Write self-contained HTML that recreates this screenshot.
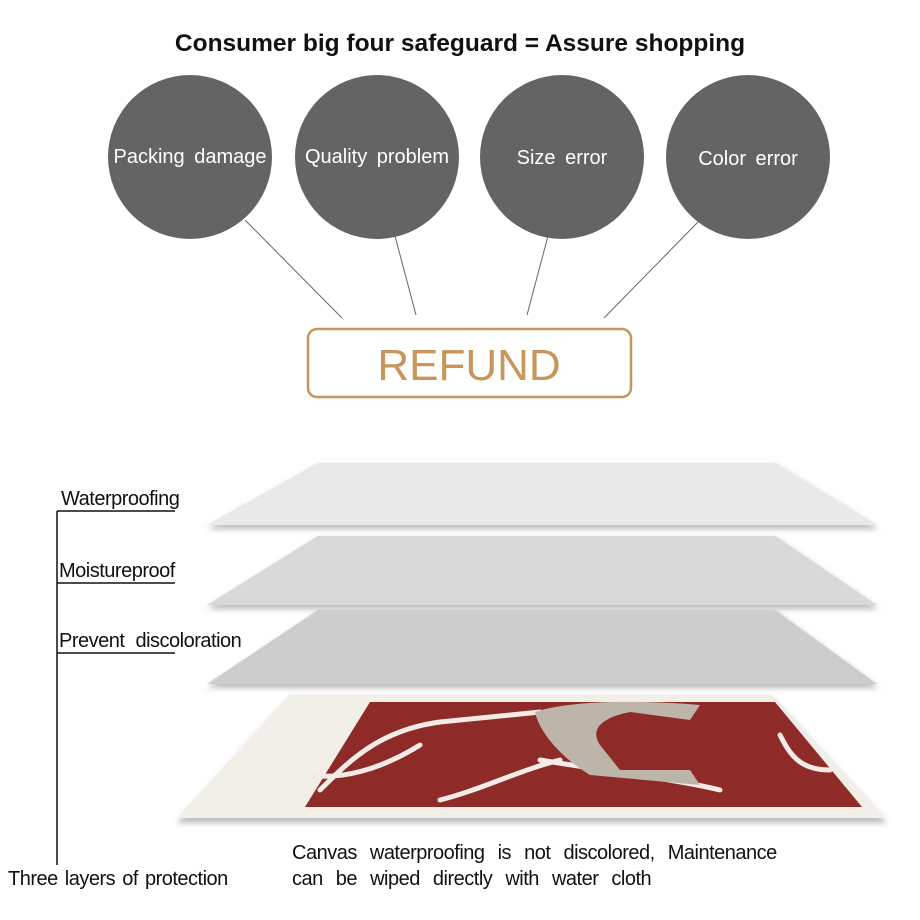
<!DOCTYPE html>
<html><head><style>
body{margin:0;width:920px;height:920px;background:#fff;overflow:hidden}
svg{display:block}
</style></head><body>
<svg width="920" height="920" viewBox="0 0 920 920" xmlns="http://www.w3.org/2000/svg" font-family="Liberation Sans, sans-serif">
<defs><filter id="sh" x="-5%" y="-20%" width="110%" height="150%"><feGaussianBlur stdDeviation="3"/></filter></defs>
<text x="460" y="51" text-anchor="middle" font-size="24.5" font-weight="bold" fill="#111">Consumer big four safeguard = Assure shopping</text>
<g fill="#646464"><circle cx="190" cy="157" r="82"/><circle cx="377" cy="157" r="82"/><circle cx="562" cy="157" r="82"/><circle cx="748" cy="157" r="82"/></g>
<g fill="#fff" font-size="20" text-anchor="middle" word-spacing="4">
<text x="190" y="163">Packing damage</text><text x="377" y="163">Quality problem</text>
<text x="562" y="164">Size error</text><text x="748" y="165">Color error</text></g>
<g stroke="#666" stroke-width="1"><line x1="245" y1="220" x2="342" y2="318"/><line x1="395" y1="236" x2="416" y2="315"/><line x1="548" y1="236" x2="527" y2="315"/><line x1="698" y1="222" x2="604" y2="318"/></g>
<rect x="308" y="329" width="323" height="68" rx="9" fill="#fff" stroke="#c8955a" stroke-width="2.5"/>
<text x="469" y="380" text-anchor="middle" font-size="44" fill="#c8955a">REFUND</text>
<g filter="url(#sh)" fill="#bbb"><polygon points="318,466 777,466 879,529 207,529"/><polygon points="318,539 777,539 879,609 207,609"/><polygon points="318,613 777,613 879,688 207,688"/><polygon points="290,698 772,698 887,823 177,823"/></g>
<polygon points="318,463 775,463 877,525 207,525" fill="#e9e9e9"/>
<polygon points="318,536 775,536 877,605 207,605" fill="#d9d9d9"/>
<polygon points="318,610 775,610 877,684 207,684" fill="#cdcdcd"/>
<polygon points="290,695 770,695 885,818 177,818" fill="#f1efe8"/>
<polygon points="370,702 775,702 862,807 305,807" fill="#8e2a28"/>
<g stroke="#f3ece6" stroke-width="5" fill="none" stroke-linecap="round">
<path d="M320,790 C350,760 380,730 440,722 L540,712"/><path d="M310,775 C340,780 380,770 420,745"/><path d="M440,800 C480,790 520,770 560,760"/><path d="M540,760 C600,770 680,780 720,790"/><path d="M780,735 C790,755 800,770 830,770"/></g>
<path d="M535,712 C570,700 640,700 700,705 L690,720 L630,712 C600,718 590,730 600,745 L620,770 L690,770 L700,785 L590,775 C565,760 540,735 535,712Z" fill="#beb5aa"/>
<g stroke="#111" stroke-width="1.5" fill="none"><path d="M57,511 V865"/><path d="M57,511 H175"/><path d="M57,583 H175"/><path d="M57,653 H175"/></g>
<g font-size="20" fill="#111" letter-spacing="-0.5">
<text x="61" y="505">Waterproofing</text><text x="59" y="577">Moistureproof</text><text x="59" y="647" word-spacing="6">Prevent discoloration</text>
<text x="8" y="885" word-spacing="2">Three layers of protection</text>
<text x="292" y="859" word-spacing="8">Canvas waterproofing is not discolored, Maintenance</text>
<text x="292" y="885" word-spacing="8">can be wiped directly with water cloth</text></g>
</svg>
</body></html>
